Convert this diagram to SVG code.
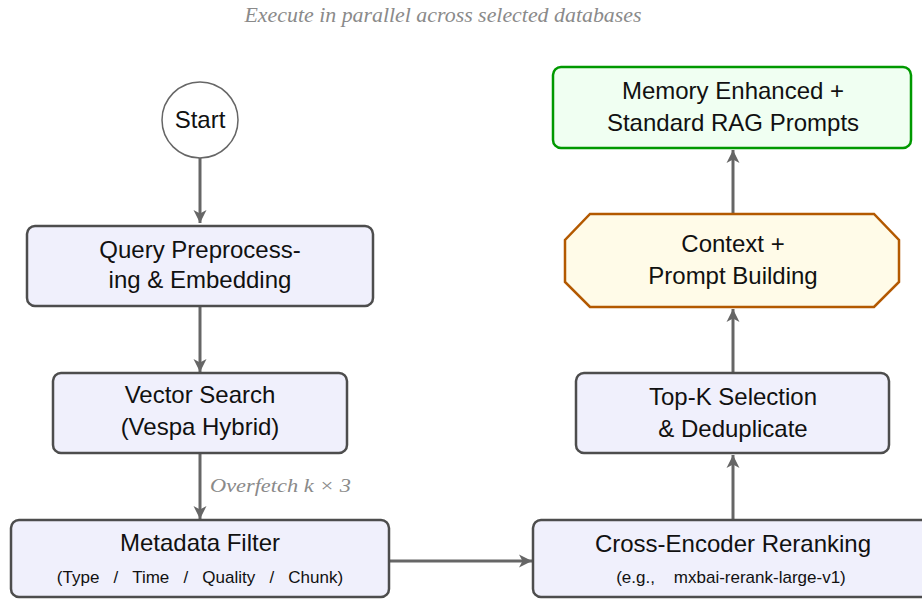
<svg xmlns="http://www.w3.org/2000/svg" width="922" height="599" viewBox="0 0 922 599">
  <defs>
    <marker id="tip" viewBox="-14 -7 16 14" markerWidth="16" markerHeight="14" refX="0" refY="0" orient="auto" markerUnits="userSpaceOnUse">
      <path d="M0,0 L-13,-6.5 L-9.5,0 L-13,6.5 Z" fill="#666666"/>
    </marker>
  </defs>
  <style>
    .box { fill: #f0f0fc; stroke: #4d4d4d; stroke-width: 2.5; }
    .out { fill: #f0fff2; stroke: #009900; stroke-width: 2.5; }
    .build { fill: #fffbe8; stroke: #b35900; stroke-width: 2.5; }
    .start { fill: #ffffff; stroke: #666666; stroke-width: 1.5; }
    .t { font-family: "Liberation Sans", Arial, sans-serif; font-size: 24px; fill: #111111; text-anchor: middle; }
    .s { font-family: "Liberation Sans", Arial, sans-serif; font-size: 17px; fill: #111111; text-anchor: middle; white-space: pre; }
    .note { font-family: "Liberation Serif", "Times New Roman", serif; font-style: italic; fill: #8a8a8a; }
    .edge { fill: none; stroke: #666666; stroke-width: 3; marker-end: url(#tip); }
  </style>

  <text class="note" x="443" y="22" font-size="20" text-anchor="middle" textLength="397" lengthAdjust="spacingAndGlyphs">Execute in parallel across selected databases</text>

  <g id="connectors">
    <line class="edge" x1="200" y1="158" x2="200" y2="223"/>
    <line class="edge" x1="200" y1="306" x2="200" y2="372"/>
    <line class="edge" x1="200" y1="454" x2="200" y2="519"/>
    <line class="edge" x1="389" y1="561" x2="532" y2="561"/>
    <line class="edge" x1="733" y1="520" x2="733" y2="455"/>
    <line class="edge" x1="733" y1="373" x2="733" y2="309"/>
    <line class="edge" x1="733" y1="214" x2="733" y2="150"/>
    <text class="note" x="210" y="492" font-size="19" textLength="141" lengthAdjust="spacingAndGlyphs">Overfetch k × 3</text>
  </g>

  <g id="start">
    <circle class="start" cx="200" cy="120" r="38"/>
    <text class="t" x="200" y="128" font-size="19">Start</text>
  </g>

  <g id="query">
    <rect class="box" x="27" y="226" width="346" height="80" rx="8"/>
    <text class="t" x="200" y="258">Query Preprocess-</text>
    <text class="t" x="200" y="288">ing &amp; Embedding</text>
  </g>

  <g id="vector-search">
    <rect class="box" x="53" y="373" width="294" height="80" rx="8"/>
    <text class="t" x="200" y="403">Vector Search</text>
    <text class="t" x="200" y="435">(Vespa Hybrid)</text>
  </g>

  <g id="metadata-filter">
    <rect class="box" x="11" y="520" width="378" height="77" rx="8"/>
    <text class="t" x="200" y="551">Metadata Filter</text>
    <text class="s" x="200" y="583">(Type   /   Time   /   Quality   /   Chunk)</text>
  </g>

  <g id="rerank">
    <rect class="box" x="533" y="520" width="400" height="77" rx="8"/>
    <text class="t" x="733" y="552">Cross-Encoder Reranking</text>
    <text class="s" x="731" y="583">(e.g.,    mxbai-rerank-large-v1)</text>
  </g>

  <g id="top-k">
    <rect class="box" x="576" y="373" width="313" height="80" rx="8"/>
    <text class="t" x="733" y="405">Top-K Selection</text>
    <text class="t" x="733" y="437">&amp; Deduplicate</text>
  </g>

  <g id="prompt-building">
    <polygon class="build" points="590,214 874,214 899,240 899,282 874,307 590,307 565,282 565,240"/>
    <text class="t" x="733" y="252">Context +</text>
    <text class="t" x="733" y="284">Prompt Building</text>
  </g>

  <g id="prompts">
    <rect class="out" x="553" y="67" width="358" height="81" rx="8"/>
    <text class="t" x="733" y="99">Memory Enhanced +</text>
    <text class="t" x="733" y="131">Standard RAG Prompts</text>
  </g>
</svg>
